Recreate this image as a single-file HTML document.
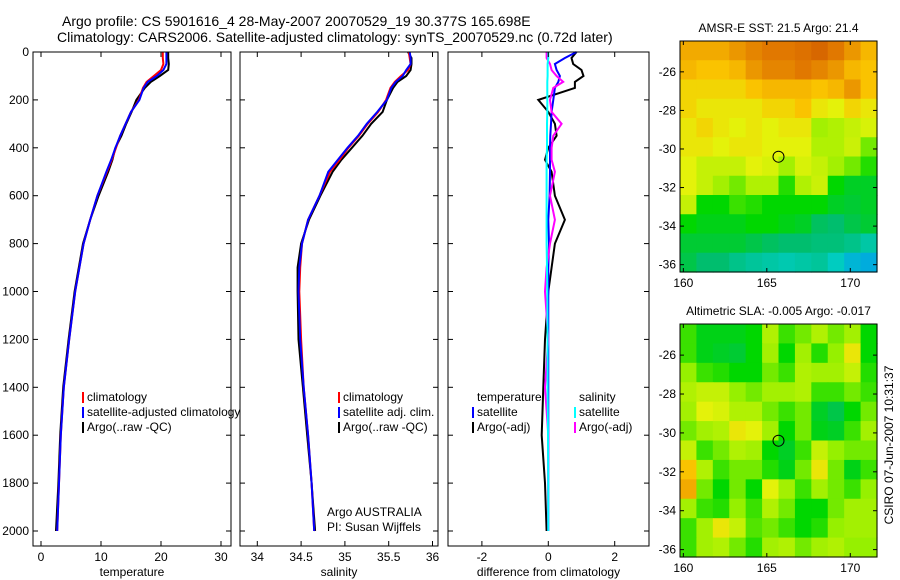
<!DOCTYPE html>
<html><head><meta charset="utf-8"><style>
html,body{margin:0;padding:0;background:#fff;}
svg{display:block;font-family:"Liberation Sans",sans-serif;}
</style></head><body>
<svg id="c" width="900" height="580" viewBox="0 0 900 580">
<text x="62" y="26" font-size="14">Argo profile: CS 5901616_4 28-May-2007 20070529_19 30.377S 165.698E</text>
<text x="57" y="42" font-size="14">Climatology: CARS2006. Satellite-adjusted climatology: synTS_20070529.nc (0.72d later)</text>
<g id="g"></g>
</svg>
<script>
const depths=[0,25,50,75,100,125,150,200,250,300,350,400,450,500,600,700,800,900,1000,1200,1400,1600,1800,2000];
const tempClim=[20.3,20.3,20.4,20.0,18.8,17.6,17.0,16.3,15.0,14.1,13.2,12.5,11.8,11.0,9.4,8.2,7.1,6.4,5.7,4.7,3.8,3.3,3.0,2.7];
const tempSat=[20.9,20.9,20.9,20.4,19.3,17.8,17.1,16.4,15.0,14.1,13.2,12.4,11.7,10.9,9.4,8.2,7.1,6.4,5.7,4.7,3.8,3.3,3.0,2.7];
const tempArgo=[21.2,21.2,21.3,21.2,19.8,18.3,17.3,15.9,15.1,14.2,13.4,12.4,11.9,11.2,9.6,8.2,7.0,6.3,5.6,4.6,3.7,3.2,2.9,2.5];
const salClim=[35.73,35.74,35.75,35.72,35.64,35.57,35.52,35.47,35.38,35.26,35.16,35.04,34.94,34.83,34.71,34.58,34.51,34.49,34.48,34.50,34.53,34.58,34.62,34.65];
const salSat=[35.74,35.75,35.75,35.70,35.66,35.58,35.53,35.48,35.37,35.25,35.15,35.03,34.92,34.81,34.71,34.58,34.51,34.48,34.47,34.49,34.53,34.58,34.62,34.65];
const salArgo=[35.72,35.76,35.76,35.75,35.70,35.60,35.55,35.48,35.43,35.30,35.20,35.08,34.96,34.86,34.72,34.59,34.50,34.46,34.46,34.47,34.52,34.57,34.62,34.66];
const diffTsat=[0.85,0.5,0.2,0.25,0.35,0.3,0.2,0.15,0.1,0.08,0.06,0.05,0.05,0.05,0.04,0.0,0.02,0.0,0.0,0.0,0.0,0.0,0.0,0.0];
const diffTargo=[0.85,0.7,0.75,1.0,1.06,0.8,0.8,-0.3,0.0,0.2,0.25,0.0,-0.1,0.1,0.2,0.5,0.2,0.1,0.0,-0.1,-0.15,-0.2,-0.1,-0.05];
const diffSargo=[-0.05,-0.05,0.05,0.1,0.25,0.45,0.15,0.05,0.1,0.4,0.15,0.1,0.1,0.2,0.05,0.2,0.05,-0.05,-0.1,0.0,-0.1,0.0,0.0,0.0];
const diffSsat=[0.0,0.0,-0.02,-0.02,-0.02,-0.03,-0.03,-0.03,-0.03,-0.04,-0.04,-0.04,-0.05,-0.05,-0.05,-0.05,-0.05,-0.04,-0.03,-0.02,-0.02,-0.01,0.0,0.0];
const depthTicks=[0,200,400,600,800,1000,1200,1400,1600,1800,2000];
const tempTicks=[0,10,20,30];
const salTicks=[34,34.5,35,35.5,36];
const salTickLabels=["34","34.5","35","35.5","36"];
const diffTicks=[-2,0,2];
const lonTicks=[160,165,170];
const latTicks=[-26,-28,-30,-32,-34,-36];
const sstGrid=[
[0.82,0.82,0.82,0.85,0.88,0.9,0.9,0.92,0.95,0.9,0.85,0.8],
[0.8,0.78,0.78,0.8,0.85,0.88,0.88,0.9,0.88,0.85,0.8,0.78],
[0.75,0.75,0.75,0.75,0.78,0.8,0.8,0.8,0.78,0.8,0.85,0.78],
[0.75,0.72,0.72,0.72,0.72,0.75,0.75,0.78,0.72,0.7,0.75,0.72],
[0.72,0.75,0.72,0.7,0.72,0.7,0.72,0.72,0.6,0.62,0.65,0.68],
[0.72,0.72,0.7,0.72,0.72,0.7,0.7,0.7,0.62,0.62,0.66,0.55],
[0.7,0.65,0.65,0.65,0.7,0.68,0.6,0.68,0.65,0.6,0.55,0.48],
[0.7,0.65,0.6,0.55,0.62,0.62,0.48,0.62,0.66,0.45,0.4,0.4],
[0.65,0.45,0.45,0.5,0.48,0.45,0.45,0.45,0.45,0.4,0.38,0.4],
[0.45,0.42,0.42,0.42,0.45,0.45,0.42,0.4,0.32,0.3,0.35,0.38],
[0.38,0.38,0.38,0.38,0.35,0.32,0.3,0.3,0.28,0.28,0.25,0.2],
[0.35,0.3,0.3,0.25,0.22,0.2,0.18,0.2,0.22,0.15,0.1,0.08]];
const slaGrid=[
[0.5,0.42,0.42,0.42,0.45,0.62,0.5,0.55,0.62,0.55,0.6,0.45],
[0.5,0.42,0.4,0.38,0.45,0.6,0.45,0.6,0.48,0.58,0.72,0.45],
[0.58,0.5,0.48,0.45,0.45,0.55,0.5,0.62,0.6,0.6,0.65,0.48],
[0.62,0.65,0.65,0.58,0.55,0.6,0.6,0.62,0.5,0.5,0.55,0.5],
[0.6,0.7,0.68,0.62,0.62,0.55,0.5,0.55,0.4,0.35,0.45,0.55],
[0.55,0.6,0.62,0.72,0.7,0.6,0.45,0.55,0.42,0.4,0.5,0.6],
[0.65,0.5,0.55,0.62,0.6,0.45,0.4,0.5,0.65,0.58,0.55,0.55],
[0.78,0.62,0.5,0.55,0.55,0.48,0.42,0.55,0.72,0.55,0.42,0.5],
[0.82,0.55,0.45,0.55,0.45,0.7,0.6,0.5,0.6,0.55,0.5,0.58],
[0.6,0.5,0.48,0.58,0.5,0.62,0.55,0.45,0.45,0.55,0.6,0.6],
[0.5,0.6,0.72,0.65,0.52,0.55,0.5,0.45,0.48,0.58,0.6,0.6],
[0.5,0.6,0.62,0.55,0.48,0.6,0.62,0.55,0.6,0.62,0.58,0.58]];
const floatLon=165.7, floatLat=-30.4;

const NS="http://www.w3.org/2000/svg";
const G=document.getElementById('g');
function mk(t,a,p){const e=document.createElementNS(NS,t);for(const k in a)e.setAttribute(k,a[k]);(p||G).appendChild(e);return e;}
const yD=d=>52+d*0.2395;
function panel(x0,x1,xs,ticks,labels,xlabel,name,series){
  const g=mk('g',{});
  
  
  series.forEach(s=>{
    const pts=s.v.map((v,i)=>xs(v).toFixed(1)+','+yD(depths[i]).toFixed(1)).join(' ');
    const l=mk('polyline',{points:pts,fill:'none',stroke:s.c,'stroke-width':2},g);
    
    
  });
  const r=mk('rect',{x:x0,y:52,width:x1-x0,height:494,fill:'none',stroke:'#000','stroke-width':1},g);
  
  
  ticks.forEach((t,i)=>{const x=xs(t);
    mk('line',{x1:x,x2:x,y1:52,y2:57,stroke:'#000'},g);mk('line',{x1:x,x2:x,y1:546,y2:541,stroke:'#000'},g);
    const tx=mk('text',{x:x,y:561,'font-size':12,'text-anchor':'middle'},g);tx.textContent=labels[i];
    
    });
  depthTicks.forEach(d=>{const y=yD(d);
    mk('line',{x1:x0,x2:x0+5,y1:y,y2:y,stroke:'#000'},g);mk('line',{x1:x1,x2:x1-5,y1:y,y2:y,stroke:'#000'},g);});
  const xl=mk('text',{x:(x0+x1)/2,y:576,'font-size':12,'text-anchor':'middle'},g);xl.textContent=xlabel;
  
  
  return g;
}
const xT=v=>41+v*6, xS=v=>257.3+(v-34)*87.6, xDf=v=>548.3+v*33.2;
panel(33,231,xT,tempTicks,tempTicks.map(String),'temperature','temperature',[{v:tempArgo,c:'#000',n:'argo-temperature-line'},{v:tempClim,c:'#f00',n:'clim-temperature-line'},{v:tempSat,c:'#00f',n:'sat-temperature-line'}]);
panel(240,438,xS,salTicks,salTickLabels,'salinity','salinity',[{v:salArgo,c:'#000',n:'argo-salinity-line'},{v:salClim,c:'#f00',n:'clim-salinity-line'},{v:salSat,c:'#00f',n:'sat-salinity-line'}]);
panel(448,649,xDf,diffTicks,diffTicks.map(String),'difference from climatology','difference',[{v:diffTargo,c:'#000',n:'argo-temp-diff-line'},{v:diffTsat,c:'#00f',n:'sat-temp-diff-line'},{v:diffSargo,c:'#f0f',n:'argo-sal-diff-line'},{v:diffSsat,c:'#0ff',n:'sat-sal-diff-line'}]);
depthTicks.forEach(d=>{const t=mk('text',{x:29,y:yD(d)+4,'font-size':12,'text-anchor':'end'});t.textContent=d;
  
  });
function legend(bx,items,y0){items.forEach((it,i)=>{const y=y0+i*15;
  if(it.c)mk('rect',{x:bx,y:y-9,width:2,height:11,fill:it.c});
  const t=mk('text',{x:bx+5,y:y,'font-size':12});t.textContent=it.t;
  
  });}
legend(82,[{c:'#f00',t:'climatology'},{c:'#00f',t:'satellite-adjusted climatology'},{c:'#000',t:'Argo(..raw -QC)'}],401);
legend(338,[{c:'#f00',t:'climatology'},{c:'#00f',t:'satellite adj. clim.'},{c:'#000',t:'Argo(..raw -QC)'}],401);
legend(472,[{c:null,t:'temperature'},{c:'#00f',t:'satellite'},{c:'#000',t:'Argo(-adj)'}],401);
legend(574,[{c:null,t:'salinity'},{c:'#0ff',t:'satellite'},{c:'#f0f',t:'Argo(-adj)'}],401);
[['Argo AUSTRALIA',516],['PI: Susan Wijffels',531]].forEach(a=>{const t=mk('text',{x:327,y:a[1],'font-size':12});t.textContent=a[0];
  
  });

const stops=[[0,[0,136,255]],[0.15,[0,204,192]],[0.3,[0,190,110]],[0.45,[0,215,0]],[0.58,[150,240,0]],[0.7,[228,242,10]],[0.78,[250,195,0]],[0.9,[225,120,0]],[1,[205,85,0]]];
function cmap(v){for(let i=1;i<stops.length;i++){if(v<=stops[i][0]){const a=stops[i-1],b=stops[i],f=(v-a[0])/(b[0]-a[0]);
  return 'rgb('+a[1].map((c,k)=>Math.round(c+(b[1][k]-c)*f)).join(',')+')';}}return 'rgb(205,85,0)';}
function map(grid,top,bot,title,name){
  const x0=680,x1=877,lonL=159.8,lonR=171.6;
  const xs=l=>x0+(l-lonL)/(lonR-lonL)*(x1-x0);
  const latTop=-24.4,latBot=-36.38;const ys=l=>top+(latTop-l)/(latTop-latBot)*(bot-top);
  const g=mk('g',{});
  
  
  const R=grid.length,C=grid[0].length,cw=(x1-x0)/C,ch=(bot-top)/R;
  grid.forEach((row,r)=>row.forEach((v,c)=>{const e=mk('rect',{x:(x0+c*cw).toFixed(2),y:(top+r*ch).toFixed(2),width:(cw+0.6).toFixed(2),height:(ch+0.6).toFixed(2),fill:cmap(v)},g);
    
    }));
  mk('rect',{x:x0,y:top,width:x1-x0,height:bot-top,fill:'none',stroke:'#000'},g);
  const c=mk('circle',{cx:xs(floatLon),cy:ys(floatLat),r:5.5,fill:'none',stroke:'#000','stroke-width':1},g);
  
  
  lonTicks.forEach(l=>{const x=xs(l);mk('line',{x1:x,x2:x,y1:top,y2:top+4,stroke:'#000'},g);mk('line',{x1:x,x2:x,y1:bot,y2:bot-4,stroke:'#000'},g);
    const t=mk('text',{x:x,y:bot+15,'font-size':12,'text-anchor':'middle'},g);t.textContent=l;
    
    });
  latTicks.forEach(l=>{const y=ys(l);mk('line',{x1:x0,x2:x0+4,y1:y,y2:y,stroke:'#000'},g);mk('line',{x1:x1,x2:x1-4,y1:y,y2:y,stroke:'#000'},g);
    const t=mk('text',{x:676,y:y+4,'font-size':12,'text-anchor':'end'},g);t.textContent=l;
    
    });
  const tt=mk('text',{x:(x0+x1)/2,y:top-9,'font-size':12,'text-anchor':'middle'},g);tt.textContent=title;
  
  
}
map(sstGrid,41,272,'AMSR-E SST: 21.5 Argo: 21.4','sst-map');
map(slaGrid,324,557,'Altimetric SLA: -0.005 Argo: -0.017','sla-map');
const cs=mk('text',{x:0,y:0,'font-size':12,'text-anchor':'middle',transform:'translate(893,445) rotate(-90)'});
cs.textContent='CSIRO 07-Jun-2007 10:31:37';


</script>
</body></html>
